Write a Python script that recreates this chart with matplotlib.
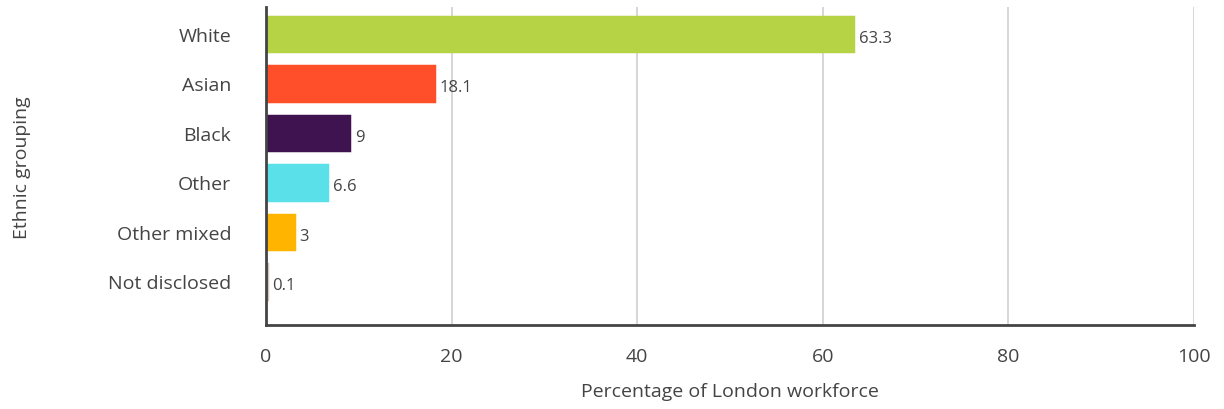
import matplotlib.pyplot as plt

# Data
groups = ['White', 'Asian', 'Black', 'Other', 'Other mixed', 'Not disclosed']
values = [63.3, 18.1, 9, 6.6, 3, 0.1]
labels = ['63.3', '18.1', '9', '6.6', '3', '0.1']
colors = ['#b5d345', '#ff4f2a', '#3f134f', '#5ae0e8', '#ffb400', '#d3c5bb']
xticks = [0, 20, 40, 60, 80, 100]

plt.rcParams['font.family'] = ['Open Sans', 'DejaVu Sans']
text_color = '#444444'

fig = plt.figure(figsize=(12.24, 4.1), dpi=100)
ax = fig.add_axes([0.2173, 0.2049, 0.7582, 0.7756])

ypos = list(range(len(groups)))
# thin edge in the bar colour so the 0.1 bar stays visible
ax.barh(ypos, values, height=0.7, color=colors, edgecolor=colors,
        linewidth=2.5, zorder=3)
for y, v, lab in zip(ypos, values, labels):
    ax.text(v + 0.6, y + 0.08, lab, va='center', ha='left', fontsize=12, color=text_color)

ax.set_xlim(0, 100)
ax.set_ylim(5.88, -0.545)
ax.set_yticks(ypos)
ax.set_yticklabels(groups, fontsize=14, color=text_color)
ax.set_xticks(xticks)
ax.set_xticklabels([str(t) for t in xticks], fontsize=14, color=text_color)
ax.tick_params(axis='both', length=0)
ax.tick_params(axis='x', pad=16)
ax.tick_params(axis='y', pad=25)

ax.grid(axis='x', color='#d0d0d0', linewidth=1.2, zorder=0)
for side in ['top', 'right']:
    ax.spines[side].set_visible(False)
ax.spines['left'].set_color('#444444')
ax.spines['left'].set_linewidth(2)
ax.spines['left'].set_zorder(4)
ax.spines['bottom'].set_color('#444444')
ax.spines['bottom'].set_linewidth(2)

ax.set_xlabel('Percentage of London workforce', fontsize=14, color=text_color, labelpad=12)
fig.text(0.018, 0.59, 'Ethnic grouping', rotation=90, ha='center', va='center',
         fontsize=14, color=text_color)

fig.savefig('out.png', dpi=100)
